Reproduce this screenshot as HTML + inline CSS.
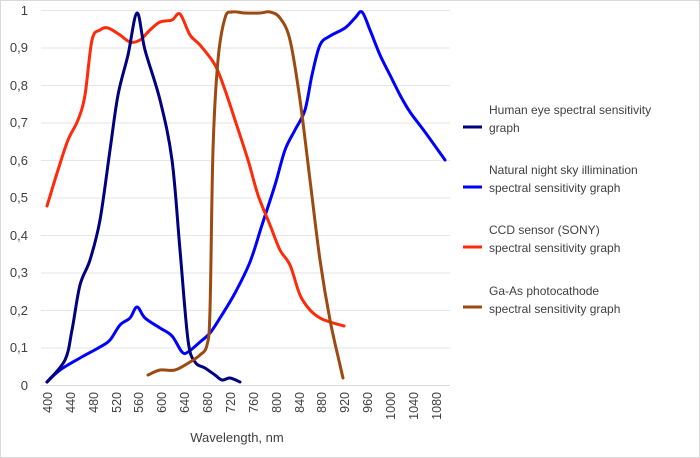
<!DOCTYPE html>
<html><head><meta charset="utf-8"><style>
html,body{margin:0;padding:0;background:#fff}
svg{display:block}
text{font-family:"Liberation Sans",sans-serif;fill:#404040}
</style></head><body>
<svg id="c" width="700" height="458" viewBox="0 0 700 458" xmlns="http://www.w3.org/2000/svg">
<rect x="0.5" y="0.5" width="699" height="457" fill="#fff" stroke="#d9d9d9"/>
<g stroke="#e6e6e6" stroke-width="1">
<line x1="41" x2="450" y1="10.5" y2="10.5"/><line x1="41" x2="450" y1="48" y2="48"/>
<line x1="41" x2="450" y1="85.5" y2="85.5"/><line x1="41" x2="450" y1="123" y2="123"/>
<line x1="41" x2="450" y1="160.5" y2="160.5"/><line x1="41" x2="450" y1="198" y2="198"/>
<line x1="41" x2="450" y1="235.5" y2="235.5"/><line x1="41" x2="450" y1="273" y2="273"/>
<line x1="41" x2="450" y1="310.5" y2="310.5"/><line x1="41" x2="450" y1="348" y2="348"/>
<line x1="41" x2="450" y1="385.5" y2="385.5" stroke="#d9d9d9"/>
</g>
<g font-size="13" text-anchor="end">
<text x="28" y="15">1</text><text x="28" y="52">0,9</text><text x="28" y="90">0,8</text>
<text x="28" y="127">0,7</text><text x="28" y="165">0,6</text><text x="28" y="202">0,5</text>
<text x="28" y="240">0,4</text><text x="28" y="277">0,3</text><text x="28" y="315">0,2</text>
<text x="28" y="352">0,1</text><text x="28" y="390">0</text>
</g>
<g font-size="12.5" text-anchor="end">
<text transform="translate(52,392) rotate(-90)">400</text>
<text transform="translate(75,392) rotate(-90)">440</text>
<text transform="translate(98,392) rotate(-90)">480</text>
<text transform="translate(121,392) rotate(-90)">520</text>
<text transform="translate(143,392) rotate(-90)">560</text>
<text transform="translate(166,392) rotate(-90)">600</text>
<text transform="translate(189,392) rotate(-90)">640</text>
<text transform="translate(212,392) rotate(-90)">680</text>
<text transform="translate(235,392) rotate(-90)">720</text>
<text transform="translate(258,392) rotate(-90)">760</text>
<text transform="translate(281,392) rotate(-90)">800</text>
<text transform="translate(304,392) rotate(-90)">840</text>
<text transform="translate(326,392) rotate(-90)">880</text>
<text transform="translate(349,392) rotate(-90)">920</text>
<text transform="translate(372,392) rotate(-90)">960</text>
<text transform="translate(395,392) rotate(-90)">1000</text>
<text transform="translate(418,392) rotate(-90)">1040</text>
<text transform="translate(441,392) rotate(-90)">1080</text>
</g>
<text x="237" y="442" font-size="13" text-anchor="middle">Wavelength, nm</text>
<g fill="none" stroke-width="3" stroke-linejoin="round" stroke-linecap="round">
<polyline class="s" stroke="#0000ff" points="47,382 60,370 80,358 100,347 110,340 120,325 130,318 137,307 145,318 160,328 172,336 182,352 188,352 200,342 210,333 220,318 235,293 250,262 262,225 275,185 285,150 295,130 305,110 312,75 320,45 330,36 345,28 355,18 362,12 370,30 380,55 390,75 400,95 410,112 425,132 445,160"/>
<polyline class="s" stroke="#ff2a0a" points="47,206 58,170 68,140 78,120 85,95 92,40 100,30 108,28 120,35 130,42 140,40 150,30 160,22 172,20 180,14 190,35 200,45 215,65 225,90 235,120 248,160 258,195 270,225 280,250 290,265 300,295 310,310 320,318 330,322 344,326"/>
<polyline class="s" stroke="#000080" points="47,382 65,360 72,330 80,285 90,260 100,220 110,150 118,95 128,55 137,13 145,50 160,100 172,160 180,250 188,340 195,362 205,368 215,375 222,380 230,378 240,382"/>
<polyline class="s" stroke="#9c4a10" points="148,375 160,370 175,370 190,362 200,355 207,345 210,310 213,150 218,60 225,18 232,12 245,13 260,13 270,12 280,18 290,40 300,100 310,180 320,260 330,320 340,365 343,378"/>
</g>
<g stroke-width="3">
<line x1="463" x2="482" y1="127" y2="127" stroke="#000080"/>
<line x1="463" x2="482" y1="187" y2="187" stroke="#0000ff"/>
<line x1="463" x2="482" y1="247" y2="247" stroke="#ff2a0a"/>
<line x1="463" x2="482" y1="307" y2="307" stroke="#9c4a10"/>
</g>
<g font-size="12">
<text x="489" y="114">Human eye spectral sensitivity</text><text x="489" y="132">graph</text>
<text x="489" y="174">Natural  night sky illimination</text><text x="489" y="192">spectral sensitivity graph</text>
<text x="489" y="234">CCD sensor (SONY)</text><text x="489" y="252">spectral sensitivity graph</text>
<text x="489" y="295">Ga-As photocathode</text><text x="489" y="313">spectral sensitivity graph</text>
</g>
</svg>
<script>
(function(){
var NS="http://www.w3.org/2000/svg";
document.querySelectorAll("polyline.s").forEach(function(pl){
var p=pl.getAttribute("points").trim().split(/\s+/).map(function(s){return s.split(",").map(Number);});
var d="M"+p[0][0]+","+p[0][1];
for(var i=0;i<p.length-1;i++){
var p0=p[i-1]||p[i],p1=p[i],p2=p[i+1],p3=p[i+2]||p2,t=6;
d+=" C"+(p1[0]+(p2[0]-p0[0])/t)+","+(p1[1]+(p2[1]-p0[1])/t)+" "+(p2[0]-(p3[0]-p1[0])/t)+","+(p2[1]-(p3[1]-p1[1])/t)+" "+p2[0]+","+p2[1];
}
var path=document.createElementNS(NS,"path");
path.setAttribute("d",d);path.setAttribute("stroke",pl.getAttribute("stroke"));
pl.parentNode.replaceChild(path,pl);
});
})();
</script>
</body></html>
